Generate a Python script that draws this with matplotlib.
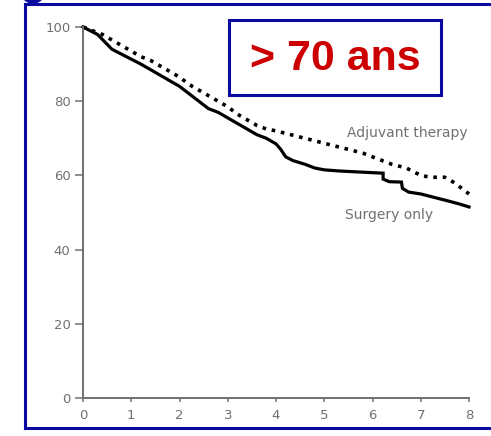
import matplotlib
matplotlib.use('Agg')
import matplotlib.pyplot as plt
from matplotlib.patches import Rectangle, Ellipse
from matplotlib.lines import Line2D

# Kaplan-Meier style survival (%), years
surgery_t = [0, 0.15, 0.3, 0.45, 0.6, 0.75, 0.9, 1.05, 1.2, 1.4, 1.6, 1.8,
             2.0, 2.15, 2.3, 2.45, 2.6, 2.8, 3.0, 3.2, 3.4, 3.6, 3.8, 4.0,
             4.1, 4.2, 4.35, 4.6, 4.8, 5.0, 5.3, 5.6, 5.9, 6.22, 6.22, 6.35,
             6.6, 6.62, 6.75, 7.0, 7.3, 7.6, 7.8, 8.0]
surgery_v = [100, 99, 98, 96, 94, 93, 92, 91, 90, 88.5, 87, 85.5,
             84, 82.5, 81, 79.5, 78, 77, 75.5, 74, 72.5, 71, 70, 68.5,
             67, 65, 64, 63, 62, 61.5, 61.2, 61, 60.8, 60.6, 59, 58.3,
             58.2, 56.5, 55.5, 55, 54, 53, 52.3, 51.5]

adjuvant_t = [0, 0.2, 0.4, 0.6, 0.8, 1.0, 1.2, 1.4, 1.6, 1.8, 2.0, 2.2, 2.4,
              2.6, 2.8, 3.0, 3.2, 3.4, 3.6, 3.8, 4.0, 4.3, 4.6, 4.9, 5.2,
              5.5, 5.8, 6.1, 6.4, 6.7, 7.0, 7.2, 7.5, 7.7, 7.85, 8.0]
adjuvant_v = [100, 99, 98, 96.5, 95, 93.5, 92, 91, 89.5, 88, 86.5, 84.5, 83,
              81.5, 80, 78.5, 76.5, 75, 73.5, 72.5, 72, 71, 70, 69, 68,
              67, 66, 64.5, 63, 62, 60, 59.5, 59.5, 58, 56.5, 55]

x_ticks = [0, 1, 2, 3, 4, 5, 6, 7, 8]
y_ticks = [0, 20, 40, 60, 80, 100]

W, H = 491, 436
GRAY = '#707070'
BLUE = '#0a0aa0'

fig = plt.figure(figsize=(W / 100, H / 100), dpi=100)
fig.patch.set_facecolor('white')


def fx(px):
    return px / W


def fy(py):
    return 1 - py / H


# outer slide frame
fig.add_artist(Line2D([fx(25), 1.0], [fy(4), fy(4)], color=BLUE, lw=2.2))
fig.add_artist(Line2D([fx(25), fx(25)], [fy(4), fy(428)], color=BLUE, lw=2.2))
fig.add_artist(Line2D([fx(25), 1.0], [fy(428), fy(428)], color=BLUE, lw=2.2))
fig.add_artist(Ellipse((fx(33), fy(-7)), 22 / W, 20 / H, color=BLUE))

ax = fig.add_axes([fx(83), fy(398), fx(469) - fx(83), fy(27) - fy(398)])
ax.set_xlim(0, 8)
ax.set_ylim(0, 100)

ax.plot(surgery_t, surgery_v, color='black', lw=2.3, clip_on=False,
        solid_joinstyle='miter')
ax.plot(adjuvant_t, adjuvant_v, color='black', lw=2.6,
        linestyle=(0, (1, 1.6)), dash_capstyle='butt', clip_on=False)

ax.text(6.72, 71.4, 'Adjuvant therapy', color=GRAY, fontsize=10,
        family='DejaVu Sans', ha='center', va='center')
ax.text(6.34, 49.3, 'Surgery only', color=GRAY, fontsize=10,
        family='DejaVu Sans', ha='center', va='center')

for s in ['top', 'right']:
    ax.spines[s].set_visible(False)
for s in ['left', 'bottom']:
    ax.spines[s].set_color(GRAY)
    ax.spines[s].set_linewidth(1.4)

ax.set_xticks(x_ticks)
ax.set_yticks(y_ticks)
ax.tick_params(colors=GRAY, labelcolor=GRAY, labelsize=9.5, width=1.1)
ax.tick_params(axis='y', length=6, pad=3)
ax.tick_params(axis='x', length=3, pad=5)

# label box
fig.add_artist(Rectangle((fx(229), fy(95)), fx(441) - fx(229), fy(20) - fy(95),
                         fill=True, facecolor='white', edgecolor=BLUE, lw=2.2))
fig.text(fx(335), fy(59), '> 70 ans', color='#cc0000', fontsize=31,
         family=['Liberation Sans', 'DejaVu Sans'], fontweight='bold',
         ha='center', va='center')

fig.savefig('out.png', dpi=100, facecolor='white')
